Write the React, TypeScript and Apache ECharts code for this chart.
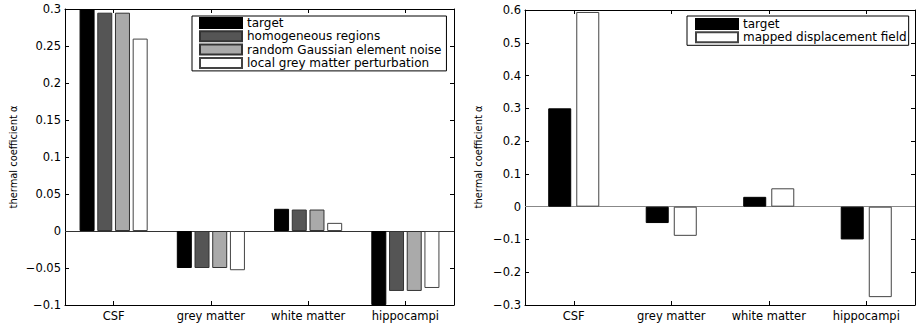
import React, { useEffect, useRef } from "react";
import * as echarts from "echarts";

const categories = ["CSF", "grey matter", "white matter", "hippocampi"];

// left panel
const leftTarget = [0.3, -0.05, 0.03, -0.1];
const leftHomogeneous = [0.295, -0.05, 0.029, -0.081];
const leftRandomNoise = [0.295, -0.05, 0.029, -0.081];
const leftLocalGrey = [0.26, -0.053, 0.011, -0.077];

// right panel
const rightTarget = [0.3, -0.05, 0.03, -0.1];
const rightMapped = [0.594, -0.089, 0.056, -0.276];

const FONT = "DejaVu Sans";

const fmt = (v: number) => {
  const r = +v.toFixed(3);
  return r < 0 ? "\u2212" + String(Math.abs(r)) : String(r);
};

export default function App() {
  const ref = useRef<HTMLDivElement>(null);
  useEffect(() => {
    if (!ref.current) return;
    const chart = echarts.init(ref.current, undefined, { renderer: "svg" });

    const catAxis = (gridIndex: number, position: "bottom" | "top", labels: boolean) => ({
      type: "category",
      gridIndex,
      position,
      data: categories,
      boundaryGap: true,
      axisLine: { show: true, onZero: false, lineStyle: { color: "#000", width: 1 } },
      axisTick: { show: true, inside: true, alignWithLabel: true, length: 4, lineStyle: { color: "#000" } },
      axisLabel: {
        show: labels,
        color: "#000",
        fontFamily: FONT,
        fontSize: 11.5,
        margin: 5,
      },
      splitLine: { show: false },
    });

    const valAxis = (
      gridIndex: number,
      position: "left" | "right",
      min: number,
      max: number,
      interval: number,
      labels: boolean
    ) => ({
      type: "value",
      gridIndex,
      position,
      min,
      max,
      interval,
      axisLine: { show: true, onZero: false, lineStyle: { color: "#000", width: 1 } },
      axisTick: { show: true, inside: true, length: 4, lineStyle: { color: "#000" } },
      axisLabel: {
        show: labels,
        color: "#000",
        fontFamily: FONT,
        fontSize: 11.5,
        margin: 4,
        formatter: fmt,
      },
      splitLine: { show: false },
    });

    const barSeries = (
      name: string,
      data: number[],
      color: string,
      border: string,
      xi: number,
      yi: number,
      width: number,
      gap: string
    ) => ({
      type: "bar",
      name,
      data,
      xAxisIndex: xi,
      yAxisIndex: yi,
      barWidth: width,
      barGap: gap,
      itemStyle: { color, borderColor: border, borderWidth: 1 },
    });

    const zeroLine = (color: string) => ({
      silent: true,
      symbol: ["none", "none"],
      label: { show: false },
      lineStyle: { color, width: 1.2, type: "solid" },
      data: [{ yAxis: 0 }],
      z: 1,
    });

    const s0 = barSeries("target", leftTarget, "#000000", "#000000", 0, 0, 15, "18%");
    (s0 as any).markLine = zeroLine("#333333");
    const s4 = barSeries("target", rightTarget, "#000000", "#000000", 2, 2, 23, "22%");
    (s4 as any).markLine = zeroLine("#888888");

    const legendCommon = {
      orient: "vertical",
      top: 16,
      icon: "rect",
      itemWidth: 42,
      itemHeight: 10,
      itemGap: 1.3,
      borderColor: "#000",
      borderWidth: 1,
      backgroundColor: "#fff",
      selectedMode: false,
      textStyle: { color: "#000", fontFamily: FONT, fontSize: 12, lineHeight: 12 },
    };

    const yLabelStyle = {
      text: "thermal coefficient \u03b1",
      fill: "#000",
      font: '11px "DejaVu Sans Condensed", "Liberation Sans Narrow", sans-serif',
      align: "center",
      verticalAlign: "middle",
    };

    const option: any = {
      animation: false,
      backgroundColor: "#ffffff",
      textStyle: { fontFamily: FONT },
      grid: [
        { left: 65, top: 9, width: 389, height: 296 },
        { left: 525, top: 10, width: 390, height: 295 },
      ],
      xAxis: [
        catAxis(0, "bottom", true),
        catAxis(0, "top", false),
        catAxis(1, "bottom", true),
        catAxis(1, "top", false),
      ],
      yAxis: [
        valAxis(0, "left", -0.1, 0.3, 0.05, true),
        valAxis(0, "right", -0.1, 0.3, 0.05, false),
        valAxis(1, "left", -0.3, 0.6, 0.1, true),
        valAxis(1, "right", -0.3, 0.6, 0.1, false),
      ],
      legend: [
        {
          ...legendCommon,
          data: ["target", "homogeneous regions", "random Gaussian element noise", "local grey matter perturbation"],
          left: 192,
          padding: [1, 5, 2, 7],
        },
        {
          ...legendCommon,
          data: ["target", "mapped displacement field"],
          left: 687,
          padding: [2, 2, 2, 8],
        },
      ],
      graphic: [
        { type: "text", x: 13, y: 157, rotation: Math.PI / 2, style: yLabelStyle },
        { type: "text", x: 478, y: 157, rotation: Math.PI / 2, style: yLabelStyle },
      ],
      series: [
        s0,
        barSeries("homogeneous regions", leftHomogeneous, "#555555", "#333333", 0, 0, 15, "18%"),
        barSeries("random Gaussian element noise", leftRandomNoise, "#aaaaaa", "#333333", 0, 0, 15, "18%"),
        barSeries("local grey matter perturbation", leftLocalGrey, "#ffffff", "#444444", 0, 0, 15, "18%"),
        s4,
        barSeries("mapped displacement field", rightMapped, "#ffffff", "#444444", 2, 2, 23, "22%"),
      ],
    };

    chart.setOption(option);
    return () => chart.dispose();
  }, []);

  return (
    <div
      ref={ref}
      style={{ position: "absolute", left: 0, top: 0, width: 920, height: 326, background: "#fff" }}
    />
  );
}
